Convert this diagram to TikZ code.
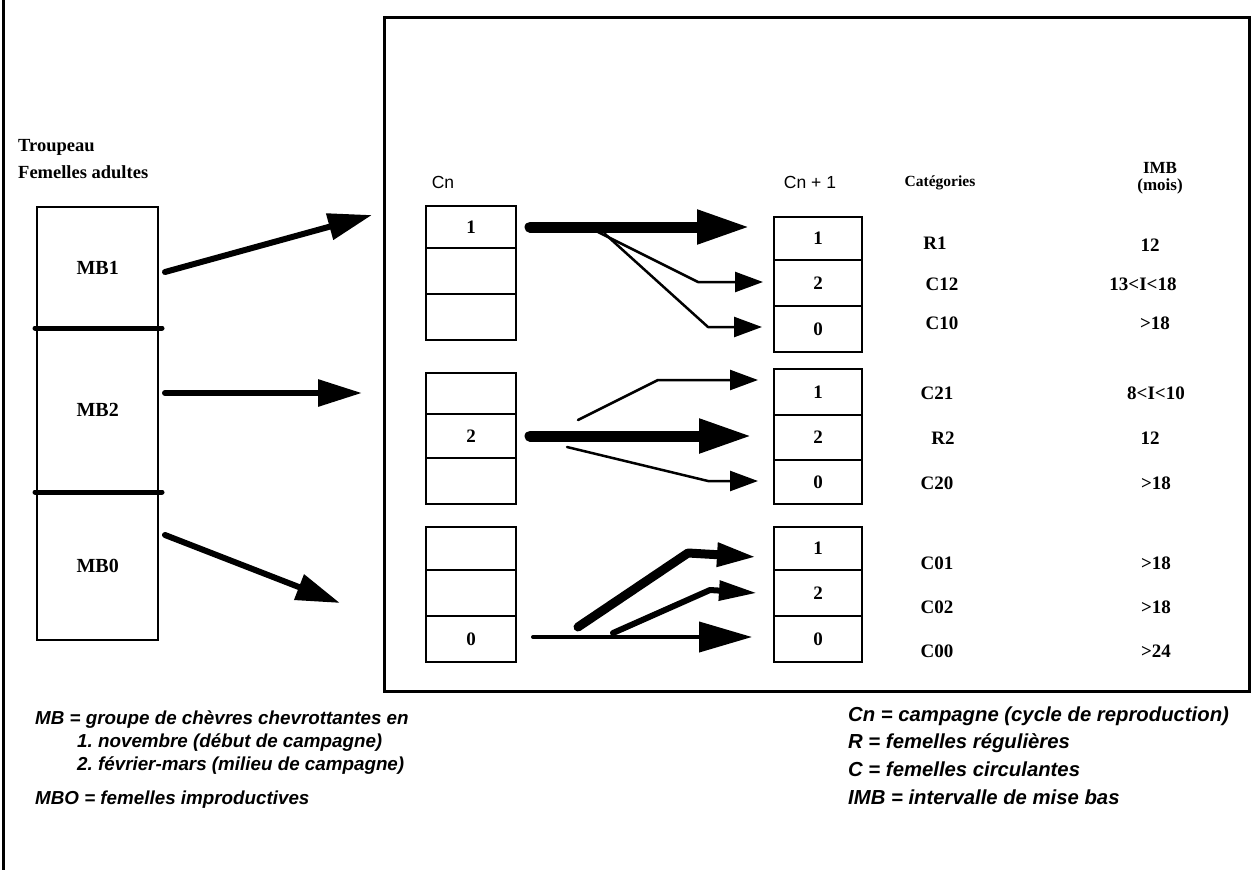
\documentclass[tikz,border=0pt]{standalone}
\usepackage{fontspec}
\setmainfont{Liberation Serif}
\setsansfont{Liberation Sans}
\usetikzlibrary{arrows.meta}
\frenchspacing
\begin{document}
\begin{tikzpicture}[x=1pt,y=-1pt,
  lbl/.style={font=\fontsize{19}{19}\selectfont\bfseries, inner sep=0pt},
  hdr/.style={font=\fontsize{15.5}{17}\selectfont\bfseries, inner sep=0pt, align=center},
  cnlbl/.style={font=\sffamily\fontsize{17.5}{17}\selectfont, inner sep=0pt},
  legl/.style={font=\sffamily\bfseries\itshape\fontsize{18.8}{19}\selectfont, inner sep=0pt, anchor=base west},
  legr/.style={font=\sffamily\bfseries\itshape\fontsize{20.3}{20}\selectfont, inner sep=0pt, anchor=base west},
  cell/.style={draw, line width=2pt, minimum width=90pt, minimum height=#1, inner sep=0pt, anchor=north west, font=\fontsize{19}{19}\selectfont\bfseries},
  mbcell/.style={minimum width=121pt, minimum height=#1, inner sep=0pt, anchor=north west, font=\fontsize{20}{20}\selectfont\bfseries},
  bigarr/.style={line width=6pt, line cap=round, -{Triangle[length=44pt,width=26pt]}},
  thickarr/.style={line width=11pt, line cap=round, -{Triangle[length=53pt,width=32pt]}},
  thinarr/.style={line width=2.5pt, line cap=round, line join=round, -{Triangle[length=28pt,width=20pt]}},
]
\useasboundingbox (0,0) rectangle (1252,870);
\fill[white] (0,0) rectangle (1252,870);
% scan edge
\draw[line width=3pt] (3,0) -- (3,870);

% outer frame
\node[draw, line width=2.5pt, minimum width=865pt, minimum height=674pt, inner sep=0pt, anchor=north west] (frame) at (383,16) {};

% herd column
\node[lbl, anchor=base west, font=\fontsize{18.5}{18}\selectfont\bfseries] (troup) at (18,151) {Troupeau};
\node[lbl, anchor=base west, font=\fontsize{18.5}{18}\selectfont\bfseries] (fem) at (18,178) {Femelles adultes};
\node[mbcell=121pt] (mb1) at (37,207) {MB1};
\node[mbcell=164pt] (mb2) at (37,328) {MB2};
\node[mbcell=148pt] (mb0) at (37,492) {MB0};
\draw[line width=2pt] (mb1.north west) rectangle (mb0.south east);
\draw[line width=5pt, line cap=round] (35,328) -- (162,328);
\draw[line width=5pt, line cap=round] (35,492) -- (162,492);

% arrows from herd
\coordinate (s1) at (165,272); \coordinate (e1) at (372,215);
\coordinate (s2) at (165,393); \coordinate (e2) at (362,393);
\coordinate (s0) at (165,535); \coordinate (e0) at (340,603);
\draw[bigarr] (s1) -- (e1);
\draw[bigarr] (s2) -- (e2);
\draw[bigarr] (s0) -- (e0);

% column headers
\node[cnlbl] (cn) at (443,182) {Cn};
\node[cnlbl] (cn1) at (810,182) {Cn + 1};
\node[hdr] (cat) at (940,183) {Catégories};
\node[hdr, font=\fontsize{17}{17}\selectfont\bfseries] (imb) at (1160,178) {IMB\\(mois)};

% Cn boxes
\node[cell=42pt] (a11) at (425,205) {1};
\node[cell=46pt] (a12) at (425,247) {};
\node[cell=46pt] (a13) at (425,293) {};
\node[cell=41pt] (a21) at (425,372) {};
\node[cell=44pt] (a22) at (425,413) {2};
\node[cell=46pt] (a23) at (425,457) {};
\node[cell=43pt] (a31) at (425,526) {};
\node[cell=46pt] (a32) at (425,569) {};
\node[cell=46pt] (a33) at (425,615) {0};

% Cn+1 boxes
\node[cell=43pt, minimum width=88pt] (b11) at (773,216) {1};
\node[cell=46pt, minimum width=88pt] (b12) at (773,259) {2};
\node[cell=46pt, minimum width=88pt] (b13) at (773,305) {0};
\node[cell=46pt, minimum width=88pt] (b21) at (773,368) {1};
\node[cell=45pt, minimum width=88pt] (b22) at (773,414) {2};
\node[cell=44pt, minimum width=88pt] (b23) at (773,459) {0};
\node[cell=43pt, minimum width=88pt] (b31) at (773,526) {1};
\node[cell=46pt, minimum width=88pt] (b32) at (773,569) {2};
\node[cell=46pt, minimum width=88pt] (b33) at (773,615) {0};

% group 1 arrows
\coordinate (g1s) at (530,227); \coordinate (g1e) at (750,227);
\coordinate (g1as) at (598,232); \coordinate (g1ak) at (698,282); \coordinate (g1ae) at (763,282);
\coordinate (g1bs) at (605,234); \coordinate (g1bk) at (708,327); \coordinate (g1be) at (762,327);
\draw[thinarr] (g1as) -- (g1ak) -- (g1ae);
\draw[thinarr] (g1bs) -- (g1bk) -- (g1be);
\draw[thickarr] (g1s) -- (g1e);

% group 2 arrows
\coordinate (g2as) at (578,420); \coordinate (g2ak) at (658,380); \coordinate (g2ae) at (758,380);
\coordinate (g2s) at (530,436); \coordinate (g2e) at (752,436);
\coordinate (g2bs) at (567,447); \coordinate (g2bk) at (708,481); \coordinate (g2be) at (758,481);
\draw[thinarr] (g2as) -- (g2ak) -- (g2ae);
\draw[thickarr] (g2s) -- (g2e);
\draw[thinarr] (g2bs) -- (g2bk) -- (g2be);

% group 3 arrows
\coordinate (g3s) at (533,637); \coordinate (g3e) at (752,637);
\coordinate (g3as) at (578,627); \coordinate (g3ak) at (688,553); \coordinate (g3ae) at (757,557);
\coordinate (g3bs) at (613,633); \coordinate (g3bk) at (710,590); \coordinate (g3be) at (757,593);
\draw[line width=4pt, line cap=round, -{Triangle[length=53pt,width=30pt]}] (g3s) -- (g3e);
\draw[line width=9pt, line cap=round, line join=round, -{Triangle[length=40pt,width=22pt]}] (g3as) -- (g3ak) -- (g3ae);
\draw[line width=6pt, line cap=round, line join=round, -{Triangle[length=38pt,width=19pt]}] (g3bs) -- (g3bk) -- (g3be);

% categories
\node[lbl] (r1) at (935,243) {R1};
\node[lbl] (c12) at (942,284) {C12};
\node[lbl] (c10) at (942,323) {C10};
\node[lbl] (c21) at (937,393) {C21};
\node[lbl] (r2) at (943,438) {R2};
\node[lbl] (c20) at (937,483) {C20};
\node[lbl] (c01) at (937,563) {C01};
\node[lbl] (c02) at (937,607) {C02};
\node[lbl] (c00) at (937,651) {C00};

% IMB
\node[lbl] (i1) at (1150,245) {12};
\node[lbl] (i2) at (1143,284) {13<I<18};
\node[lbl] (i3) at (1155,323) {>18};
\node[lbl] (i4) at (1156,393) {8<I<10};
\node[lbl] (i5) at (1150,438) {12};
\node[lbl] (i6) at (1156,483) {>18};
\node[lbl] (i7) at (1156,563) {>18};
\node[lbl] (i8) at (1156,607) {>18};
\node[lbl] (i9) at (1156,651) {>24};

% legends
\node[legl] (l1) at (35,724) {MB = groupe de chèvres chevrottantes en};
\node[legl] (l2) at (77,747) {1. novembre (début de campagne)};
\node[legl] (l3) at (77,770) {2. février-mars (milieu de campagne)};
\node[legl] (l4) at (35,804) {MBO = femelles improductives};
\node[legr] (r1l) at (848,721) {Cn = campagne (cycle de reproduction)};
\node[legr] (r2l) at (848,748) {R = femelles régulières};
\node[legr] (r3l) at (848,776) {C = femelles circulantes};
\node[legr] (r4l) at (848,804) {IMB = intervalle de mise bas};
\end{tikzpicture}
\end{document}
